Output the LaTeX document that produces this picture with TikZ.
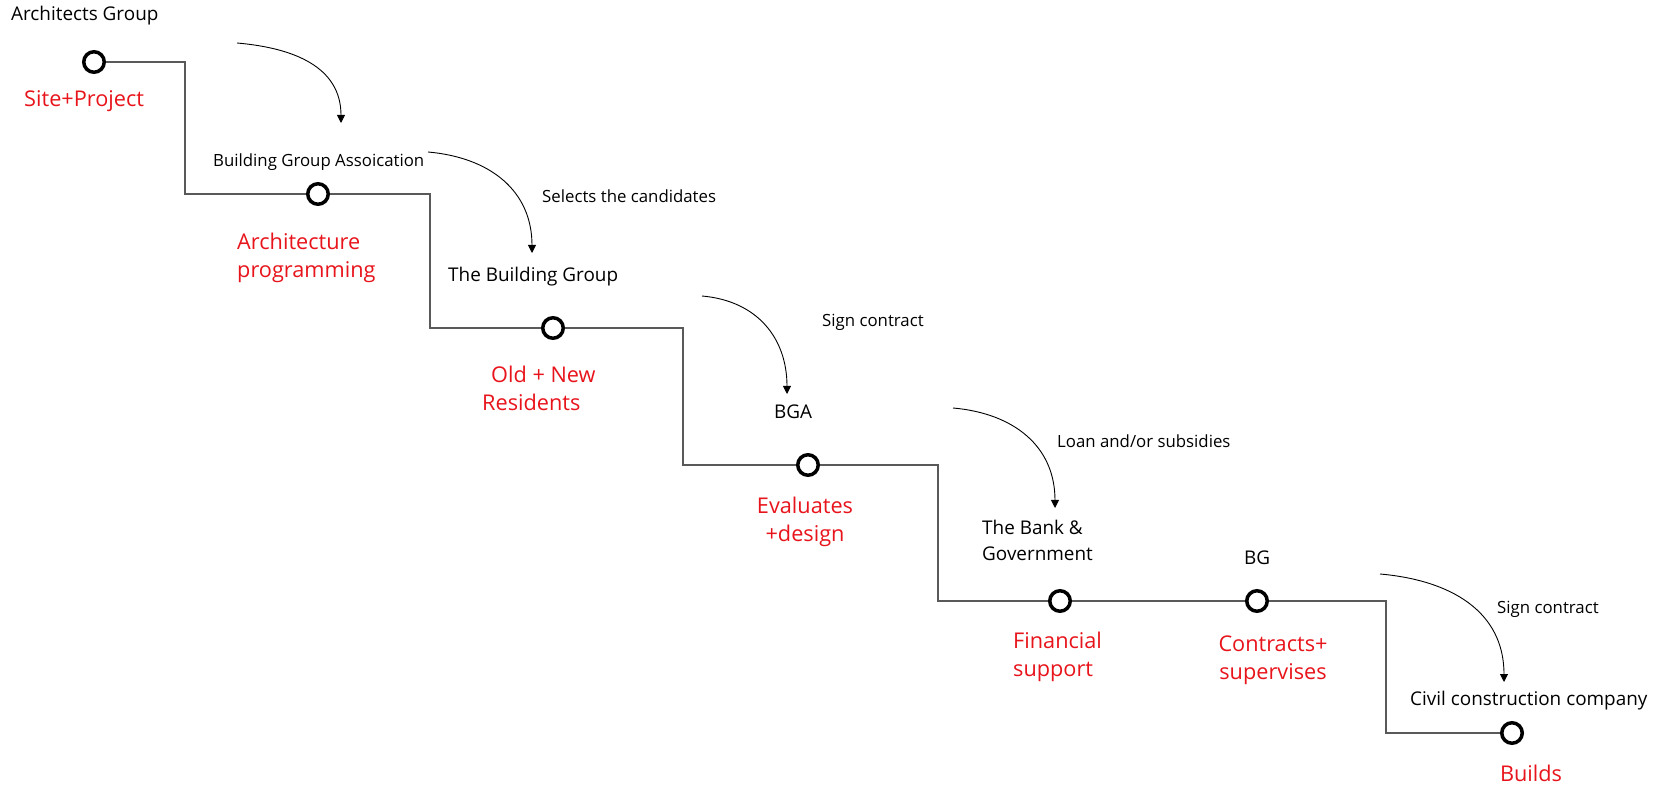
\documentclass[tikz,border=0pt]{standalone}
\usepackage{fontspec}
\setmainfont{Open Sans}
\usetikzlibrary{arrows.meta}
\definecolor{redtxt}{HTML}{E8141B}
\begin{document}
\begin{tikzpicture}[x=1pt,y=1pt,
  big/.style={inner sep=0pt, text=black, font=\fontsize{18.9}{26}\selectfont},
  sml/.style={inner sep=0pt, text=black, font=\fontsize{16.8}{20}\selectfont},
  redlab/.style={inner sep=0pt, text=redtxt, font=\fontsize{21.7}{28}\selectfont},
  stage/.style={circle, draw=black, line width=3.5pt, fill=white, minimum size=20.5pt, inner sep=0pt},
  conn/.style={draw=black!65, line width=1.3pt},
  flow/.style={draw=black, line width=0.9pt, -{Triangle[length=8pt,width=8pt]}}]
\useasboundingbox (0,0) rectangle (1670,785);

% stage circles
\coordinate (k1) at (185,0);
\coordinate (k2) at (430,0);
\coordinate (k3) at (683,0);
\coordinate (k4) at (938,0);
\coordinate (k5) at (1386,0);
\node[stage] (c1) at (94,723) {};
\node[stage] (c2) at (318,591) {};
\node[stage] (c3) at (553,457) {};
\node[stage] (c4) at (808,320) {};
\node[stage] (c5) at (1060,184) {};
\node[stage] (c6) at (1257,184) {};
\node[stage] (c7) at (1512,52) {};

% step connectors
\draw[conn] (c1.east) -| (k1 |- c2) -- (c2.west);
\draw[conn] (c2.east) -| (k2 |- c3) -- (c3.west);
\draw[conn] (c3.east) -| (k3 |- c4) -- (c4.west);
\draw[conn] (c4.east) -| (k4 |- c5) -- (c5.west);
\draw[conn] (c5.east) -- (c6.west);
\draw[conn] (c6.east) -| (k5 |- c7) -- (c7.west);

% actors
\node[big, anchor=west] (t1) at (11,769) {Architects Group};
\node[sml, anchor=west] (t2) at (213,623) {Building Group Assoication};
\node[big, anchor=west] (t3) at (448,508) {The Building Group};
\node[big] (t4) at (793,373) {BGA};
\node[big, anchor=west, align=left] (t5) at (982,245) {The Bank \&\\Government};
\node[big] (t6) at (1257,227) {BG};
\node[big, anchor=west] (t7) at (1410,84) {Civil construction company};

% actions
\node[sml, anchor=west] (l2) at (542,589) {Selects the candidates};
\node[sml, anchor=west] (l3) at (822,463) {Sign contract};
\node[sml, anchor=west] (l4) at (1057,344) {Loan and/or subsidies};
\node[sml, anchor=west] (l5) at (1497,176) {Sign contract};

% red stage labels
\node[redlab, anchor=west] (r1) at (24,684) {Site+Project};
\node[redlab, anchor=west, align=left] (r2) at (237,527) {Architecture\\programming};
\node[redlab, anchor=west, align=left] (r3) at (482,397) {\hspace*{9pt}Old + New\\Residents};
\node[redlab, align=center] (r4) at (805,263) {Evaluates\\+design};
\node[redlab, anchor=west, align=left] (r5) at (1013,128) {Financial\\support};
\node[redlab, align=center] (r6) at (1273,125) {Contracts+\\supervises};
\node[redlab] (r7) at (1531,12) {Builds};

% curved arrows
\coordinate (a1s) at (237,742); \coordinate (a1e) at (341,662);
\coordinate (a2s) at (428,633); \coordinate (a2e) at (532,532);
\coordinate (a3s) at (702,489); \coordinate (a3e) at (787,391);
\coordinate (a4s) at (953,377); \coordinate (a4e) at (1055,277);
\coordinate (a5s) at (1380,211); \coordinate (a5e) at (1504,103);
\draw[flow] (a1s) to[out=-5,in=90,looseness=1.1] (a1e);
\draw[flow] (a2s) to[out=-5,in=90,looseness=1.1] (a2e);
\draw[flow] (a3s) to[out=-5,in=90,looseness=1.1] (a3e);
\draw[flow] (a4s) to[out=-5,in=90,looseness=1.1] (a4e);
\draw[flow] (a5s) to[out=-5,in=90,looseness=1.1] (a5e);
\end{tikzpicture}
\end{document}
